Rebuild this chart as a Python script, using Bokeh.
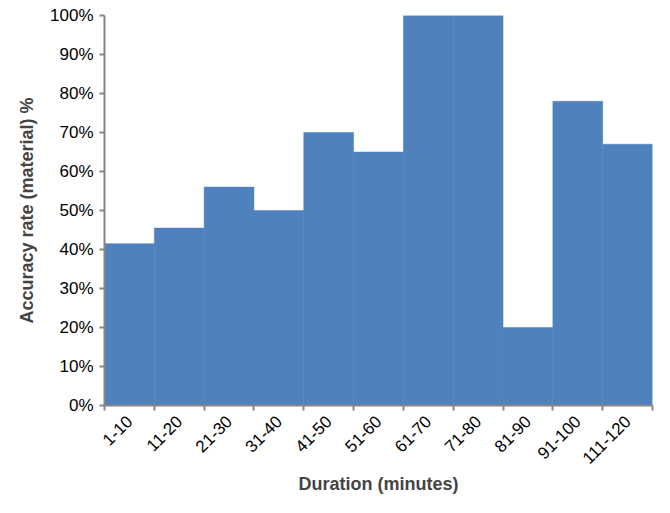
from bokeh.plotting import figure
from bokeh.models import Range1d, FixedTicker, PrintfTickFormatter
from bokeh.embed import file_html
from bokeh.resources import INLINE
import math

categories = ["1-10", "11-20", "21-30", "31-40", "41-50", "51-60",
              "61-70", "71-80", "81-90", "91-100", "111-120"]
accuracy = [41.5, 45.5, 56, 50, 70, 65, 100, 100, 20, 78, 67]
y_ticks = [0, 10, 20, 30, 40, 50, 60, 70, 80, 90, 100]

n = len(categories)
centers = [i + 0.5 for i in range(n)]

p = figure(width=654, height=497, output_backend="svg", toolbar_location=None,
           x_range=Range1d(0, n), y_range=Range1d(0, 100),
           min_border_left=104, min_border_right=2, min_border_top=15,
           min_border_bottom=80)
p.outline_line_color = None
p.xgrid.visible = False
p.ygrid.visible = False

p.vbar(x=centers, top=accuracy, width=1.0, bottom=0,
       fill_color="#4F81BD", line_color="#4F81BD", line_width=0.5)

FONT = "Liberation Sans"
AX = "#868686"

xa = p.xaxis[0]
xa.ticker = FixedTicker(ticks=centers, minor_ticks=list(range(n + 1)))
xa.major_label_overrides = {c: lab for c, lab in zip(centers, categories)}
xa.major_label_orientation = math.pi / 4
xa.major_tick_line_color = None
xa.major_tick_in = 0
xa.major_tick_out = 0
xa.minor_tick_line_color = AX
xa.minor_tick_out = 5
xa.minor_tick_in = 0
xa.axis_line_color = AX
xa.axis_line_width = 2
xa.minor_tick_line_width = 2
xa.major_label_text_font = FONT
xa.major_label_text_font_size = "17px"
xa.major_label_text_color = "#000000"
xa.major_label_standoff = 8
xa.axis_label = "Duration (minutes)"
xa.axis_label_text_font = FONT
xa.axis_label_text_font_size = "18px"
xa.axis_label_text_font_style = "bold"
xa.axis_label_standoff = 2

ya = p.yaxis[0]
ya.ticker = FixedTicker(ticks=y_ticks, minor_ticks=[])
ya.formatter = PrintfTickFormatter(format="%d%%")
ya.major_tick_line_color = AX
ya.major_tick_line_width = 2
ya.major_tick_out = 5
ya.major_tick_in = 0
ya.axis_line_color = AX
ya.axis_line_width = 2
ya.major_label_text_font = FONT
ya.major_label_text_font_size = "17px"
ya.major_label_text_color = "#000000"
ya.major_label_standoff = 6
ya.axis_label = "Accuracy rate (material) %"
ya.axis_label_text_font = FONT
ya.axis_label_text_font_size = "18px"
ya.axis_label_text_font_style = "bold"
ya.axis_label_standoff = 10

open("out.html", "w").write(file_html(p, INLINE))
